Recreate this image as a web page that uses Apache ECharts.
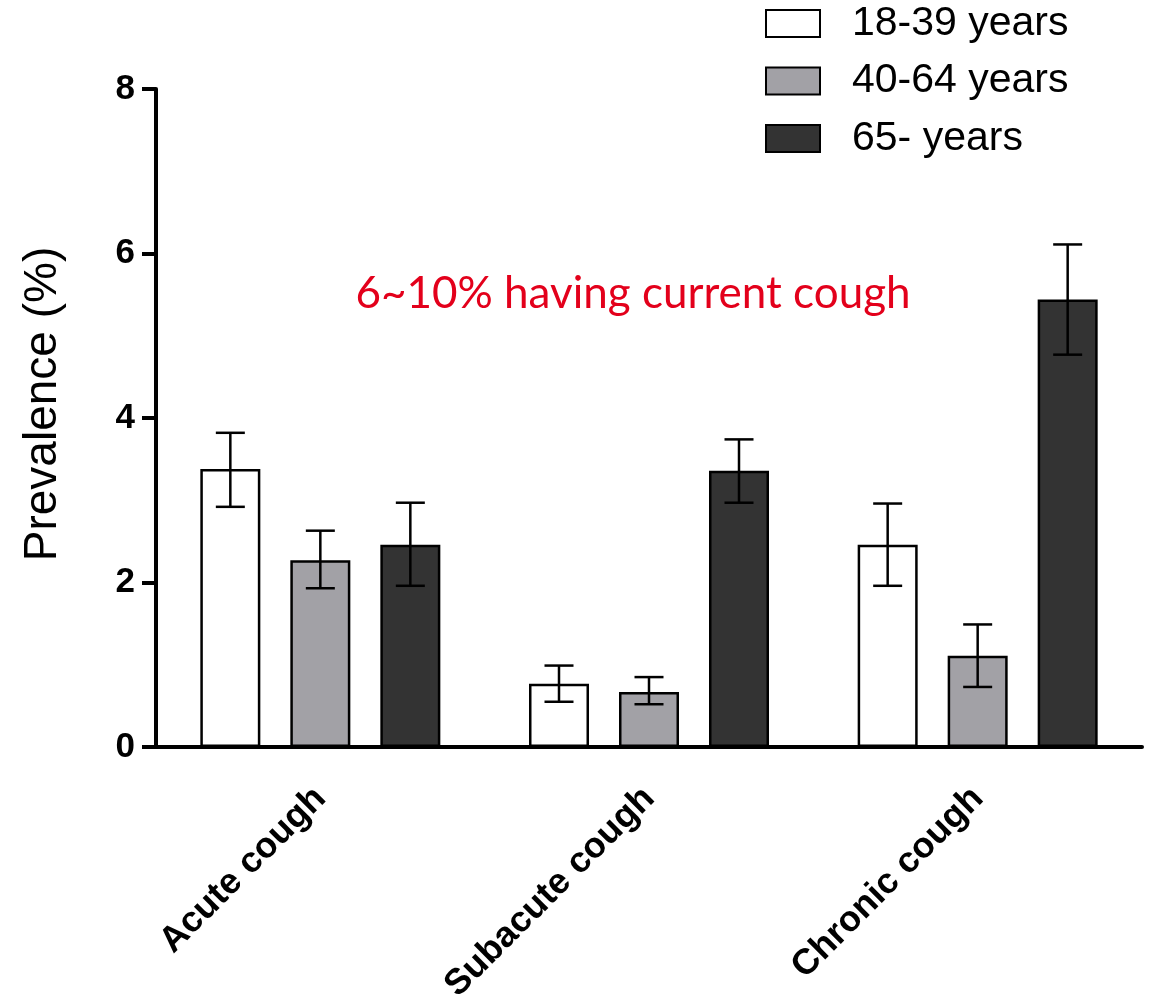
<!DOCTYPE html>
<html>
<head>
<meta charset="utf-8">
<script src="https://cdn.jsdelivr.net/npm/echarts@6/dist/echarts.min.js"></script>
<style>
html,body{margin:0;padding:0;background:#fff;}
#chart{width:1158px;height:999px;}
</style>
</head>
<body>
<div id="chart"></div>
<script>
// ---- data ----
const categories = ['Acute cough', 'Subacute cough', 'Chronic cough'];
const groupNames = ['18-39 years', '40-64 years', '65- years'];
const values18 = [3.38, 0.77, 2.46];
const values40 = [2.27, 0.67, 1.11];
const values65 = [2.46, 3.36, 5.44];
const errLow18 = [2.92, 0.55, 1.96];
const errHigh18 = [3.82, 0.99, 2.96];
const errLow40 = [1.93, 0.52, 0.73];
const errHigh40 = [2.63, 0.85, 1.49];
const errLow65 = [1.96, 2.97, 4.77];
const errHigh65 = [2.97, 3.74, 6.11];
const yTicks = [0, 2, 4, 6, 8];
const annotation = '6~10% having current cough';
const yTitle = 'Prevalence (%)';

// ---- styles ----
const BAR_W = 60, BAR_GAP = 30;
const colors = ['#ffffff', '#a2a1a6', '#333333'];
const AXIS_FONT = 'Liberation Sans, Arial, sans-serif';
const XL_SIZE = 36;

const chart = echarts.init(document.getElementById('chart'));

function barSeries(name, data, color) {
  return {
    name: name, type: 'bar', data: data,
    barWidth: BAR_W, barGap: (BAR_GAP / BAR_W * 100) + '%',
    itemStyle: { color: color, borderColor: '#000', borderWidth: 2.5 },
    emphasis: { disabled: true }, z: 2
  };
}

function errSeries(lo, hi, idx) {
  return {
    type: 'custom', silent: true, z: 10,
    data: lo.map((l, i) => [i, l, hi[i]]),
    renderItem: function (params, api) {
      const ci = api.value(0);
      const x = api.coord([ci, 0])[0] + (idx - 1) * (BAR_W + BAR_GAP);
      const yl = api.coord([ci, api.value(1)])[1];
      const yh = api.coord([ci, api.value(2)])[1];
      const cap = 14.5;
      const st = { stroke: '#000', lineWidth: 2.5 };
      return {
        type: 'group',
        children: [
          { type: 'line', shape: { x1: x, y1: yl, x2: x, y2: yh }, style: st },
          { type: 'line', shape: { x1: x - cap, y1: yh, x2: x + cap, y2: yh }, style: st },
          { type: 'line', shape: { x1: x - cap, y1: yl, x2: x + cap, y2: yl }, style: st }
        ]
      };
    }
  };
}

chart.setOption({
  animation: false,
  backgroundColor: '#fff',
  grid: { left: 156, right: 16, top: 89, bottom: 252, containLabel: false, outerBoundsMode: 'none' },
  legend: {
    orient: 'vertical', left: 765, top: 3, padding: 0,
    itemWidth: 54, itemHeight: 27, itemGap: 16.5,
    icon: 'rect',
    data: groupNames,
    textStyle: { fontFamily: AXIS_FONT, fontSize: 41, color: '#000', padding: [0, 0, 0, 27] }
  },
  xAxis: {
    type: 'category', data: categories,
    axisLine: { lineStyle: { color: '#000', width: 4 } },
    axisTick: { alignWithLabel: true, length: 13, lineStyle: { color: '#000', width: 4 } },
    axisLabel: {
      rotate: 45, interval: 0, margin: 46,
      verticalAlign: 'middle', align: 'right', padding: [15, 0, 0, 0], lineHeight: XL_SIZE,
      fontFamily: AXIS_FONT, fontWeight: 'bold', fontSize: XL_SIZE, color: '#000'
    }
  },
  yAxis: {
    type: 'value', min: yTicks[0], max: yTicks[yTicks.length - 1], interval: 2,
    axisLine: { show: true, lineStyle: { color: '#000', width: 4 } },
    axisTick: { show: true, length: 14, lineStyle: { color: '#000', width: 4 } },
    splitLine: { show: false },
    axisLabel: { margin: 21, fontFamily: AXIS_FONT, fontWeight: 'bold', fontSize: 35, color: '#000' }
  },
  graphic: [
    {
      type: 'text', x: 43, y: 404, rotation: Math.PI / 2,
      style: { text: yTitle, fontFamily: AXIS_FONT, fontSize: 46, fill: '#000', align: 'center', verticalAlign: 'middle' }
    },
    {
      type: 'text', x: 633, y: 294,
      style: { text: annotation, fontFamily: 'Lato, sans-serif', fontSize: 44, fill: '#e3001b', align: 'center', verticalAlign: 'middle' }
    }
  ],
  series: [
    barSeries(groupNames[0], values18, colors[0]),
    barSeries(groupNames[1], values40, colors[1]),
    barSeries(groupNames[2], values65, colors[2]),
    errSeries(errLow18, errHigh18, 0),
    errSeries(errLow40, errHigh40, 1),
    errSeries(errLow65, errHigh65, 2)
  ]
});
</script>
</body>
</html>
